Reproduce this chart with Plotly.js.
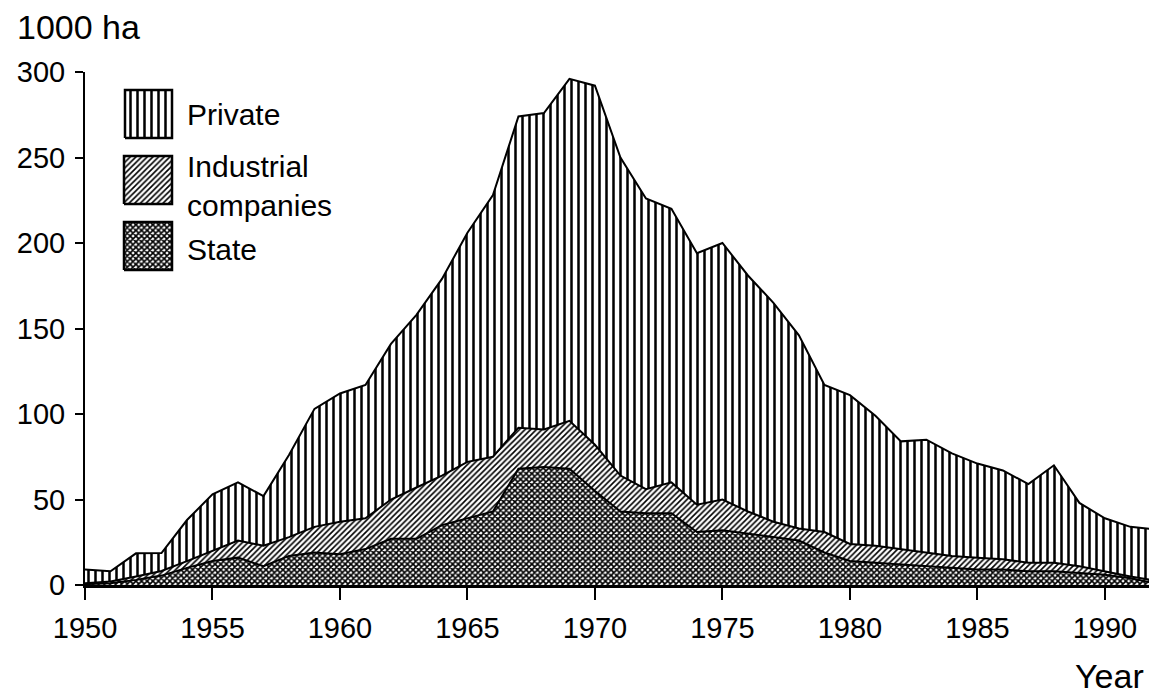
<!DOCTYPE html>
<html>
<head>
<meta charset="utf-8">
<script src="https://cdn.plot.ly/plotly-3.0.1.min.js"></script>
<style>html,body{margin:0;padding:0;background:#fff;}#chart{width:1149px;height:694px;}</style>
</head>
<body>
<div id="chart"></div>
<script>
// ---- data (1000 ha) ----
const years = [1950,1951,1952,1953,1954,1955,1956,1957,1958,1959,1960,1961,1962,1963,1964,1965,1966,1967,1968,1969,1970,1971,1972,1973,1974,1975,1976,1977,1978,1979,1980,1981,1982,1983,1984,1985,1986,1987,1988,1989,1990,1991,1992];
const stateVals = [0.5,1,3,5.5,10,14,16,11,17,19,18,21,27,27,35,39,43,68,69,68,55,43,42,42,31,32,30,28,26,19,14,13,12,11,10,9,9,8,8,7,6,4,1];
const industrialVals = [0.5,1,2,2.7,4,6,10,12,11,15,19,18,23,30,29,33,32,24,22,28,27,21,14,18,16,18,13,9,7,12,10,10,9,8,7,7,6,5,5,4,2,1,1.5];
const privateVals = [8,6,13.5,10.5,24,33,34,29,48,69,75,78,91,101,115,134,153,182,185,200,210,186,170,160,147,150,138,128,113,86,87,76,63,66,60,55,52,46,57,37,31,29,30];
const seriesNames = ["State","Industrial companies","Private"];
const xTicks = [1950,1955,1960,1965,1970,1975,1980,1985,1990];
const yTicks = [0,50,100,150,200,250,300];

const FONT = "Liberation Sans, Arial, Helvetica, sans-serif";
const patterns = {
  "State": {shape:"x", size:4, solidity:0.65, fgcolor:"#000", bgcolor:"#fff"},
  "Industrial companies": {shape:"/", size:4, solidity:0.4, fgcolor:"#000", bgcolor:"#fff"},
  "Private": {shape:"|", size:7, solidity:0.36, fgcolor:"#000", bgcolor:"#fff"}
};
const valuesBy = {"State":stateVals, "Industrial companies":industrialVals, "Private":privateVals};

const traces = seriesNames.map(n => ({
  type:"scatter", mode:"lines", x:years, y:valuesBy[n], name:n,
  stackgroup:"one", line:{color:"#000", width:2, shape:"linear"},
  fillcolor:"#fff", fillpattern:patterns[n], showlegend:false, hoverinfo:"skip"
}));

// custom legend swatches (plot-area pixel frame on overlay axes)
const legendItems = [
  {name:"Private", box:[40,87,447,495], textY:471, label:"Private"},
  {name:"Industrial companies", box:[39,87,381,429], textY:399, label:"Industrial<br>companies"},
  {name:"State", box:[39,87,315,363], textY:336, label:"State"}
];
legendItems.forEach(it => {
  const [x0,x1,y0,y1] = it.box;
  traces.push({type:"scatter", mode:"lines", xaxis:"x2", yaxis:"y2",
    x:[x0,x1,x1,x0,x0], y:[y0,y0,y1,y1,y0], fill:"toself", fillcolor:"#fff",
    fillpattern:patterns[it.name], line:{color:"#000", width:2.5},
    showlegend:false, hoverinfo:"skip"});
});

const annotations = legendItems.map(it => ({
  xref:"x2", yref:"y2", x:100, y:it.textY, xanchor:"left", yanchor:"middle",
  text:it.label, showarrow:false, align:"left",
  font:{family:FONT, size:30, color:"#000"}
}));
annotations.push({xref:"paper", yref:"paper", x:-0.066, y:1.088, xanchor:"left", yanchor:"middle",
  text:"1000 ha", showarrow:false, font:{family:FONT, size:34, color:"#000"}});
annotations.push({xref:"paper", yref:"paper", x:0.997, y:-0.177, xanchor:"right", yanchor:"middle",
  text:"Year", showarrow:false, font:{family:FONT, size:34, color:"#000"}});

const layout = {
  width:1149, height:694,
  margin:{l:85, r:0, t:72, b:109},
  paper_bgcolor:"#fff", plot_bgcolor:"#fff",
  font:{family:FONT, color:"#000"},
  showlegend:false,
  xaxis:{range:[1950,1991.73], tickvals:xTicks, ticktext:xTicks.map(String),
    ticks:"outside", ticklen:12, tickwidth:2, tickcolor:"#000",
    showline:true, linecolor:"#000", linewidth:2.5, showgrid:false, zeroline:false,
    tickfont:{family:FONT, size:29, color:"#000"}, ticklabelstandoff:4, fixedrange:true},
  yaxis:{range:[0,300], tickvals:yTicks, ticktext:yTicks.map(String),
    ticks:"outside", ticklen:8, tickwidth:2, tickcolor:"#000",
    showline:true, linecolor:"#000", linewidth:2, showgrid:false, zeroline:false,
    tickfont:{family:FONT, size:29, color:"#000"}, ticklabelstandoff:4, fixedrange:true},
  xaxis2:{overlaying:"x", anchor:"y", range:[0,1064], visible:false, fixedrange:true},
  yaxis2:{overlaying:"y", anchor:"x", range:[0,513], visible:false, fixedrange:true},
  annotations:annotations
};

Plotly.newPlot("chart", traces, layout, {displayModeBar:false, staticPlot:true});
</script>
</body>
</html>
